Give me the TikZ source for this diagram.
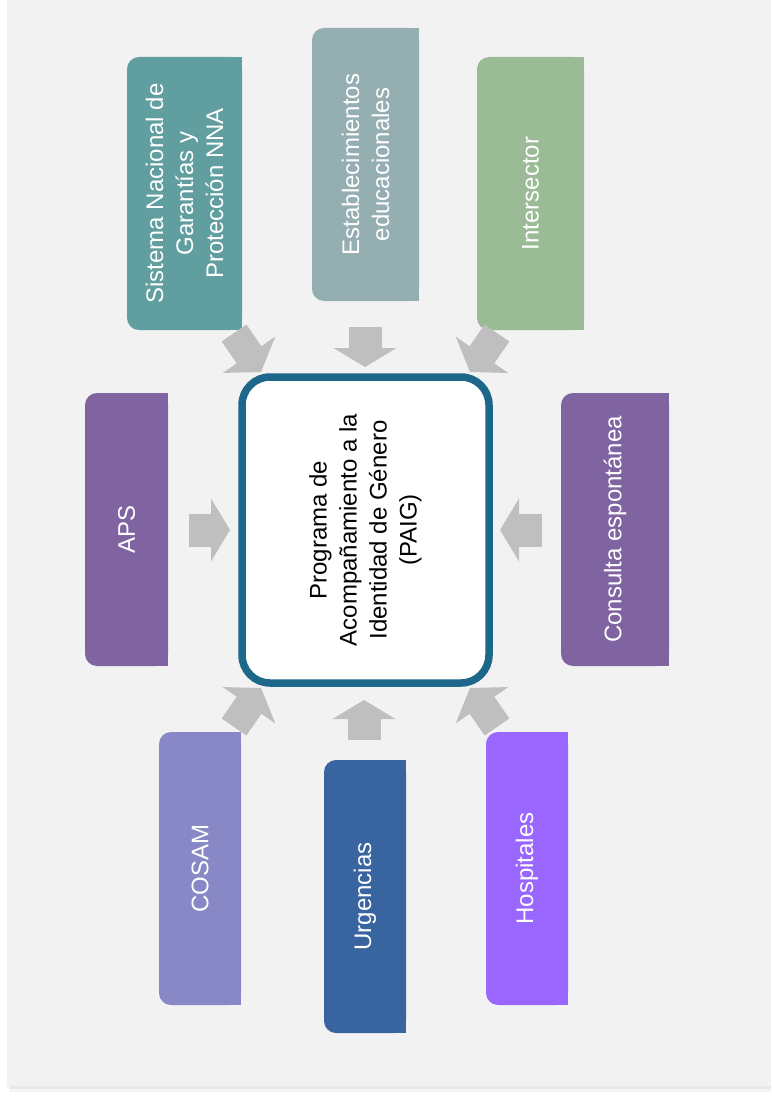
\documentclass[tikz,border=0pt]{standalone}
\usepackage{fontspec}
\setmainfont{Liberation Sans}
\usetikzlibrary{arrows.meta}
\definecolor{panel}{HTML}{F2F2F2}
\definecolor{arrowgrey}{HTML}{BFBFBF}
\definecolor{cSis}{HTML}{619EA0}
\definecolor{cEdu}{HTML}{94AEB1}
\definecolor{cInt}{HTML}{9BBB96}
\definecolor{cAps}{HTML}{8064A2}
\definecolor{cCos}{HTML}{8888C6}
\definecolor{cUrg}{HTML}{3864A0}
\definecolor{cHos}{HTML}{9966FF}
\definecolor{cBorder}{HTML}{1D678A}
\newcommand{\dfont}{\fontsize{24}{30}\selectfont}
\begin{document}
\begin{tikzpicture}[x=1pt,y=-1pt,
  box/.style={rotate=90, rounded corners=12pt, inner sep=0pt, align=center,
    text=white, font=\dfont, minimum width=273pt},
  barrow/.style={draw=arrowgrey, line width=33pt,
    -{Triangle[width=63pt,length=19pt,line width=0pt]}},
  darrow/.style={draw=arrowgrey, line width=30pt,
    -{Triangle[width=64pt,length=21pt,line width=0pt]}}]
\useasboundingbox (0,0) rectangle (771,1099);
% background panel with shadow
\fill[white] (0,0) rectangle (771,1099);
\fill[black!4] (9,1086) rectangle (771,1092);
\fill[black!9] (9,1086) rectangle (771,1089);
\draw[black!5, line width=1pt] (7.5,0) -- (7.5,1087);
\fill[panel] (8,0) rectangle (771,1086);

% square right halves of the side boxes
\fill[cSis] (184.5,57) rectangle (242,330);
\fill[cEdu] (365.5,28) rectangle (419,301);
\fill[cInt] (530.5,57) rectangle (584,330);
\fill[cAps] (126.5,393) rectangle (168,666);
\fill[cAps] (615,393) rectangle (669,666);
\fill[cCos] (200,732) rectangle (241,1005);
\fill[cUrg] (365,760) rectangle (406,1033);
\fill[cHos] (527,732) rectangle (568,1005);

% side boxes
\node[box, fill=cSis, minimum height=115pt] (sis) at (184.5,193.5)
  {Sistema Nacional de\\Garantías y\\Protección NNA};
\node[box, fill=cEdu, minimum height=107pt] (edu) at (365.5,164.5)
  {Establecimientos\\educacionales};
\node[box, fill=cInt, minimum height=107pt] (int) at (530.5,193.5)
  {Intersector};
\node[box, fill=cAps, minimum height=83pt] (aps) at (126.5,529.5)
  {APS};
\node[box, fill=cAps, minimum height=108pt] (con) at (615,529.5)
  {Consulta espontánea};
\node[box, fill=cCos, minimum height=82pt] (cos) at (200,868.5)
  {COSAM};
\node[box, fill=cUrg, minimum height=82pt] (urg) at (365,896.5)
  {Urgencias};
\node[box, fill=cHos, minimum height=82pt] (hos) at (527,868.5)
  {Hospitales};

% central box
\node[rotate=90, draw=cBorder, line width=7.5pt, fill=white, rounded corners=28pt,
  minimum width=306pt, minimum height=247pt, inner sep=0pt, align=center,
  font=\dfont, text=black] (paig) at (365.5,530)
  {Programa de\\Acompañamiento a la\\Identidad de Género\\(PAIG)};

% arrow end points
\coordinate (t1) at (234,333); \coordinate (h1) at (261,372);
\coordinate (t2) at (365,327); \coordinate (h2) at (365,367);
\coordinate (t3) at (497,333); \coordinate (h3) at (470,372);
\coordinate (t4) at (189,530); \coordinate (h4) at (230,530);
\coordinate (t5) at (542,530); \coordinate (h5) at (500,530);
\coordinate (t6) at (234,727); \coordinate (h6) at (261,688);
\coordinate (t7) at (364,740); \coordinate (h7) at (364,700);
\coordinate (t8) at (497,727); \coordinate (h8) at (470,688);

\draw[darrow] (t1) -- (h1);
\draw[barrow] (t2) -- (h2);
\draw[darrow] (t3) -- (h3);
\draw[barrow] (t4) -- (h4);
\draw[barrow] (t5) -- (h5);
\draw[darrow] (t6) -- (h6);
\draw[barrow] (t7) -- (h7);
\draw[darrow] (t8) -- (h8);
\end{tikzpicture}
\end{document}
